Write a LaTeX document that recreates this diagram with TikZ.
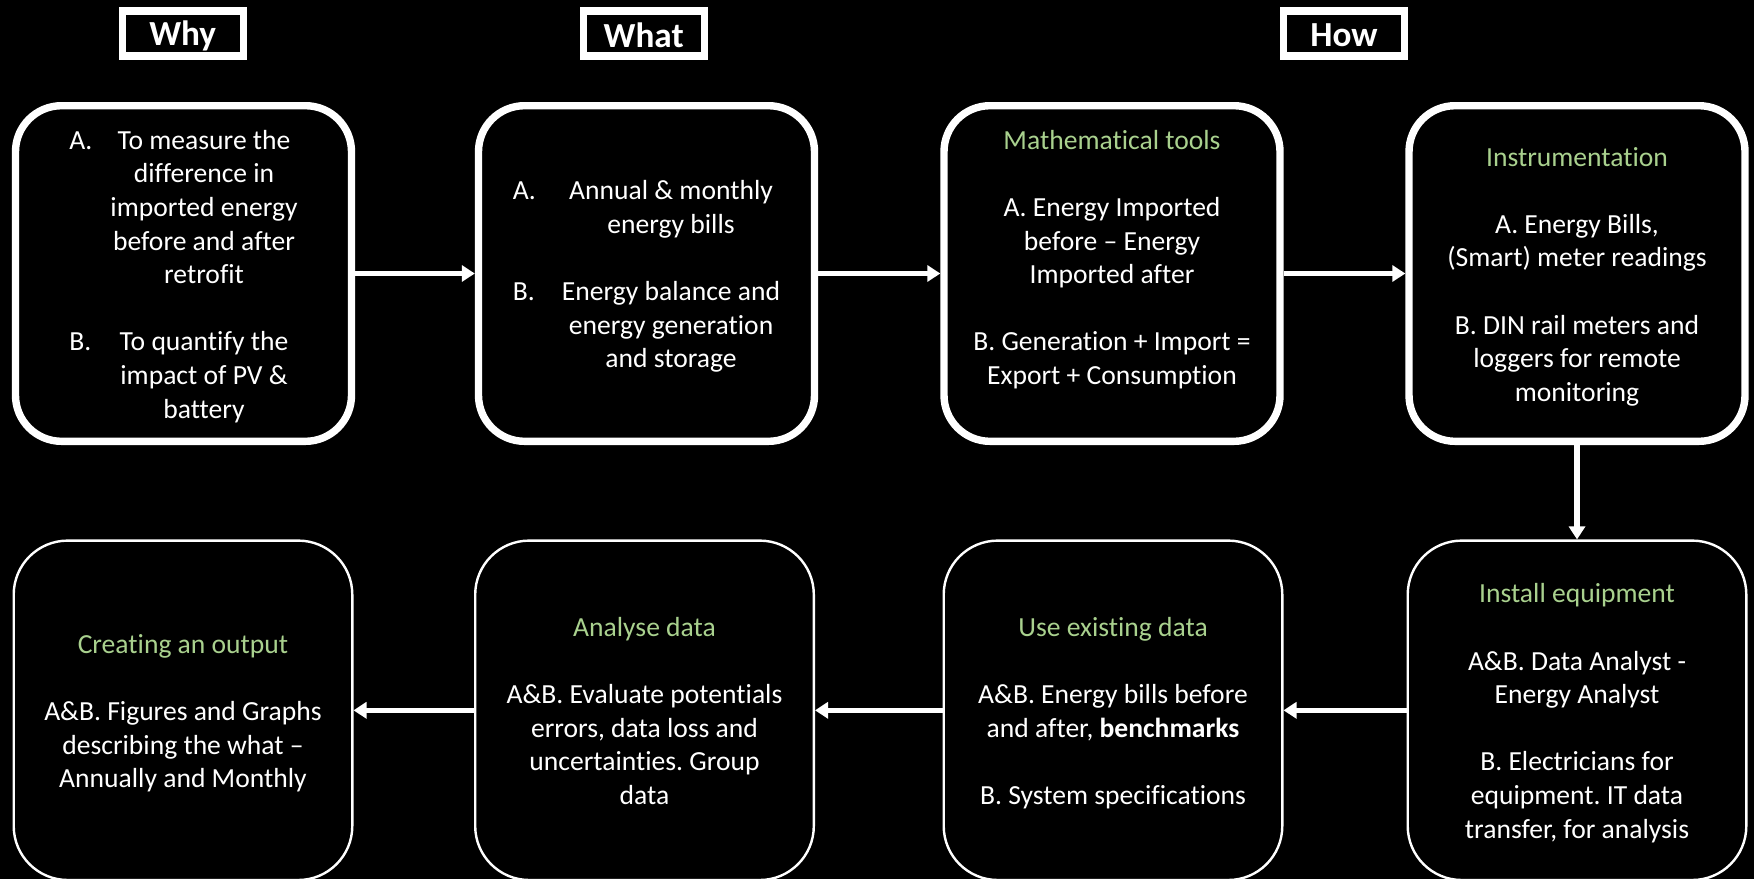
\documentclass[tikz,border=0pt]{standalone}
\usepackage{fontspec}
\setmainfont{Carlito}[Ligatures={TeX,NoCommon}]
\usetikzlibrary{arrows.meta}
\frenchspacing
\definecolor{stagegreen}{HTML}{A9D18E}
\newcommand{\stagetitle}[1]{\textcolor{stagegreen}{#1}}
% centred block of lines, set a little below the optical centre of its box
\newcommand{\stagetext}[2][@{}c@{}]{%
  \raisebox{-1.7pt}[\height][\depth]{\begin{tabular}{#1}#2\end{tabular}}}
\begin{document}
\begin{tikzpicture}[x=0.5pt,y=-0.5pt,
  every node/.style={text=white},
  header/.style={draw=white, line width=3.7pt, minimum width=60.5pt,
    minimum height=22.5pt, inner sep=0pt,
    font=\bfseries\fontsize{17.6}{21}\selectfont},
  upper/.style={draw=white, line width=3.7pt, rounded corners=23pt,
    minimum width=168pt, minimum height=167.8pt, inner sep=0pt,
    font=\fontsize{13.8}{16.8}\selectfont},
  lower/.style={draw=white, line width=1.2pt, rounded corners=27pt,
    minimum width=169.3pt, minimum height=169.7pt, inner sep=0pt,
    font=\fontsize{13.8}{16.8}\selectfont},
  flow/.style={draw=white, line width=2.6pt,
    -{Triangle[length=6.5pt,width=8pt]}}
]
\useasboundingbox (0,0) rectangle (1754,879);
\fill[black] (0,0) rectangle (1754,879);

% column headings
\node[header] (why)  at (182.7,33.6) {\raisebox{-1.2pt}[\height][\depth]{Why}};
\node[header] (what) at (643.7,33.6) {\raisebox{-0.8pt}[\height][\depth]{What}};
\node[header] (how)  at (1344,33.6)  {\raisebox{-0.8pt}[\height][\depth]{How}};

% upper row: why, what, how
\node[upper] (aims) at (183.5,273.5) {\stagetext[@{}l@{\hspace{9pt}}c@{}]{%
  A. & To measure the\\
     & difference in\\
     & imported energy\\
     & before and after\\
     & retrofit\\
     & \\
  B. & To quantify the\\
     & impact of PV \&\\
     & battery}};

\node[upper] (data) at (646.5,273.5) {\stagetext[@{}l@{\hspace{13pt}}c@{}]{%
  A. & Annual \& monthly\\
     & energy bills\\
     & \\
  B. & Energy balance and\\
     & energy generation\\
     & and storage}};

\node[upper] (maths) at (1112,273.5) {\stagetext{%
  \stagetitle{Mathematical tools}\\[16.8pt]
  A. Energy Imported\\
  before – Energy\\
  Imported after\\[16.8pt]
  B. Generation + Import =\\
  Export + Consumption\\
  \strut}};

\node[upper] (instr) at (1577,273.5) {\stagetext{%
  \stagetitle{Instrumentation}\\[16.8pt]
  A. Energy Bills,\\
  (Smart) meter readings\\[16.8pt]
  B. DIN rail meters and\\
  loggers for remote\\
  monitoring}};

% lower row, read from right to left
\node[lower] (install) at (1577,710.3) {\stagetext{%
  \stagetitle{Install equipment}\\[16.8pt]
  A\&B. Data Analyst -\\
  Energy Analyst\\[16.8pt]
  B. Electricians for\\
  equipment. IT data\\
  transfer, for analysis}};

\node[lower] (existing) at (1113,710.3) {\stagetext{%
  \stagetitle{Use existing data}\\[16.8pt]
  A\&B. Energy bills before\\
  and after, \textbf{benchmarks}\\[16.8pt]
  B. System specifications}};

\node[lower] (analyse) at (644.5,710.3) {\stagetext{%
  \stagetitle{Analyse data}\\[16.8pt]
  A\&B. Evaluate potentials\\
  errors, data loss and\\
  uncertainties. Group\\
  data}};

\node[lower] (output) at (183,710.3) {\stagetext{%
  \stagetitle{Creating an output}\\[16.8pt]
  A\&B. Figures and Graphs\\
  describing the what –\\
  Annually and Monthly}};

% flow between the stages
\draw[flow] (aims.east) -- (data.west);
\draw[flow] (data.east) -- (maths.west);
\draw[flow] (maths.east) -- (instr.west);
\draw[flow] (instr.south) -- (install.north);
\draw[flow] (install.west) -- (existing.east);
\draw[flow] (existing.west) -- (analyse.east);
\draw[flow] (analyse.west) -- (output.east);
\end{tikzpicture}
\end{document}
